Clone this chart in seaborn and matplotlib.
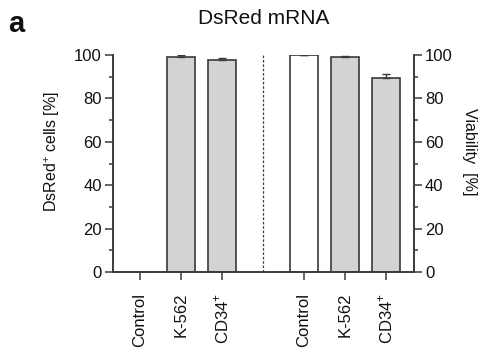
import numpy as np
import pandas as pd
import matplotlib
matplotlib.use("Agg")
import matplotlib.pyplot as plt
import seaborn as sns
from matplotlib.ticker import MultipleLocator

# data
labels = ["Control", "K-562", "CD34$^{+}$", "Control", "K-562", "CD34$^{+}$"]
positions = [0, 1, 2, 4, 5, 6]
values = [0.0, 99.2, 97.8, 100.0, 99.1, 89.2]
errors = [0.0, 0.6, 1.0, 0.0, 0.4, 2.0]
fills = ["#d3d3d3", "#d3d3d3", "#d3d3d3", "#ffffff", "#d3d3d3", "#d3d3d3"]
separator = 3

sns.set_theme(style="ticks")
plt.rcParams["font.family"] = ["Liberation Sans", "DejaVu Sans"]
plt.rcParams["mathtext.fontset"] = "custom"
plt.rcParams["mathtext.rm"] = "Liberation Sans"
plt.rcParams["text.color"] = "#111111"
plt.rcParams["axes.labelcolor"] = "#111111"
plt.rcParams["xtick.labelcolor"] = "#111111"
plt.rcParams["ytick.labelcolor"] = "#111111"

edge = "#3a3a3a"

df = pd.DataFrame({"pos": positions, "value": values, "label": labels})

fig = plt.figure(figsize=(4.82, 3.54), dpi=100)
ax = fig.add_axes([0.2344, 0.2316, 0.6245, 0.613])

sns.barplot(data=df, x="pos", y="value", native_scale=True, width=0.67,
            color="#d3d3d3", edgecolor=edge, linewidth=1.2, errorbar=None, ax=ax)
for patch, fc in zip(ax.patches, fills):
    patch.set_facecolor(fc)

ax.errorbar(positions, values, yerr=[np.zeros(len(errors)), errors], fmt="none",
            ecolor=edge, elinewidth=1.0, capsize=3, capthick=1.0)

ax.axvline(separator, ymin=0, ymax=1.01, color=edge, linestyle=(0, (2, 1.5)), linewidth=0.9)

ax.set_xlim(-0.66, 6.68)
ax.set_ylim(0, 100)
ax.set_xticks(positions)
ax.set_xticklabels(labels, rotation=90, fontsize=12)
ax.set_xlabel("")
ax.set_ylabel("")
ax.yaxis.set_major_locator(MultipleLocator(20))
ax.yaxis.set_minor_locator(MultipleLocator(10))
ax.tick_params(axis="y", which="major", length=6, width=1.1, color=edge, labelsize=12, pad=2)
ax.tick_params(axis="y", which="minor", length=3, width=1.1, color=edge)
ax.tick_params(axis="x", length=6, width=1.1, color=edge, pad=9)

ax2 = ax.twinx()
ax2.set_ylim(0, 100)
ax2.yaxis.set_major_locator(MultipleLocator(20))
ax2.yaxis.set_minor_locator(MultipleLocator(10))
ax2.tick_params(axis="y", which="major", length=6, width=1.1, color=edge, labelsize=12, pad=2)
ax2.tick_params(axis="y", which="minor", length=3, width=1.1, color=edge)

for a in (ax, ax2):
    a.spines["top"].set_visible(False)
    for s in ("left", "right", "bottom"):
        a.spines[s].set_color(edge)
        a.spines[s].set_linewidth(1.2)

# axis labels placed to match the reference
fig.text(62 / 482, 1 - 152 / 354, "DsRed$^{+}$ cells [%]", fontsize=11.5,
         rotation=90, ha="right", va="center")
fig.text(462 / 482, 1 - 152 / 354, "Viability  [%]", fontsize=11.5,
         rotation=-90, ha="left", va="center")

fig.text(0.547, 0.949, "DsRed mRNA", fontsize=15, ha="center", va="center")
fig.text(0.017, 0.932, "a", fontsize=21, fontweight="bold", va="center")

fig.savefig("out.png", dpi=100)
